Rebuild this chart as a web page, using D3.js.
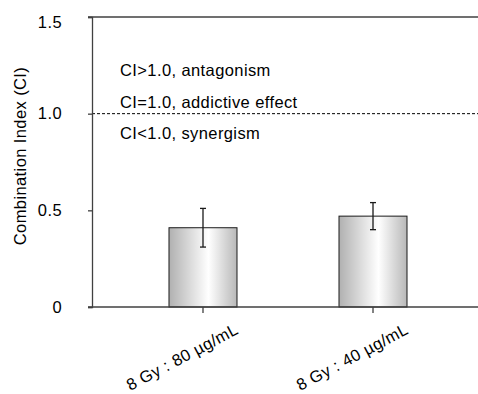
<!DOCTYPE html>
<html>
<head>
<meta charset="utf-8">
<script src="https://cdn.jsdelivr.net/npm/d3@7"></script>
<style>
  html, body { margin: 0; padding: 0; background: #fff; }
  svg { display: block; }
  text { font-family: "Liberation Sans", Arial, sans-serif; fill: #000; letter-spacing: 0.4px; }
</style>
</head>
<body>
<svg id="chart" width="478" height="394"></svg>
<script>
// Combination index for each radiation : drug pairing
const categories = ["8 Gy : 80 µg/mL", "8 Gy : 40 µg/mL"];
const ciValues = [0.41, 0.47];
const ciErrors = [0.10, 0.07];
const yTicks = [0, 0.5, 1.0, 1.5];
const yTickLabels = ["0", "0.5", "1.0", "1.5"];
const notes = ["CI>1.0, antagonism", "CI=1.0, addictive effect", "CI<1.0, synergism"];
const threshold = 1.0;

const plotLeft = 92, plotRight = 478, plotTop = 17, plotBottom = 307;
const fontSize = 16.5;

const svg = d3.select("#chart");

const y = d3.scaleLinear().domain([0, 1.5]).range([plotBottom, plotTop]);
const x = d3.scaleBand()
  .domain(categories)
  .range([98, plotRight])
  .paddingInner(0.6)
  .paddingOuter(0.4176)
  .align(0.5);

// horizontal gradient for the bars
const defs = svg.append("defs");
const grad = defs.append("linearGradient").attr("id", "barGrad")
  .attr("x1", "0%").attr("x2", "100%").attr("y1", "0%").attr("y2", "0%");
grad.append("stop").attr("offset", "0%").attr("stop-color", "#b0b0b0");
grad.append("stop").attr("offset", "58%").attr("stop-color", "#ffffff");
grad.append("stop").attr("offset", "100%").attr("stop-color", "#b8b8b8");

// top frame line at 1.5
svg.append("line")
  .attr("x1", plotLeft - 4).attr("x2", plotRight)
  .attr("y1", y(1.5)).attr("y2", y(1.5))
  .attr("stroke", "#404040").attr("stroke-width", 1.3);

// dashed threshold line at CI = 1.0
svg.append("line")
  .attr("x1", plotLeft).attr("x2", plotRight)
  .attr("y1", y(threshold)).attr("y2", y(threshold))
  .attr("stroke", "#000").attr("stroke-width", 1)
  .attr("stroke-dasharray", "3,2");

// annotation text around the threshold
const noteOffsets = [-38, -6, 25];
svg.selectAll("text.note")
  .data(notes)
  .join("text")
  .attr("class", "note")
  .attr("x", plotLeft + 28)
  .attr("y", (d, i) => y(threshold) + noteOffsets[i])
  .attr("font-size", fontSize)
  .text(d => d);

// bars
svg.selectAll("rect.bar")
  .data(categories)
  .join("rect")
  .attr("class", "bar")
  .attr("x", d => x(d))
  .attr("width", x.bandwidth())
  .attr("y", (d, i) => y(ciValues[i]))
  .attr("height", (d, i) => y(0) - y(ciValues[i]))
  .attr("fill", "url(#barGrad)")
  .attr("stroke", "#1a1a1a")
  .attr("stroke-width", 1);

// error bars
const cap = 3;
const eb = svg.selectAll("g.err")
  .data(categories)
  .join("g")
  .attr("class", "err")
  .attr("stroke", "#1a1a1a")
  .attr("stroke-width", 1.3);
eb.append("line")
  .attr("x1", d => x(d) + x.bandwidth() / 2)
  .attr("x2", d => x(d) + x.bandwidth() / 2)
  .attr("y1", (d, i) => y(ciValues[i] + ciErrors[i]))
  .attr("y2", (d, i) => y(ciValues[i] - ciErrors[i]));
eb.append("line")
  .attr("x1", d => x(d) + x.bandwidth() / 2 - cap)
  .attr("x2", d => x(d) + x.bandwidth() / 2 + cap)
  .attr("y1", (d, i) => y(ciValues[i] + ciErrors[i]))
  .attr("y2", (d, i) => y(ciValues[i] + ciErrors[i]));
eb.append("line")
  .attr("x1", d => x(d) + x.bandwidth() / 2 - cap)
  .attr("x2", d => x(d) + x.bandwidth() / 2 + cap)
  .attr("y1", (d, i) => y(ciValues[i] - ciErrors[i]))
  .attr("y2", (d, i) => y(ciValues[i] - ciErrors[i]));

// y axis
const yAxis = d3.axisLeft(y)
  .tickValues(yTicks)
  .tickFormat((d, i) => yTickLabels[i])
  .tickSize(4)
  .tickPadding(26);
const gy = svg.append("g")
  .attr("transform", `translate(${plotLeft},0)`)
  .call(yAxis);
gy.select(".domain").attr("stroke", "#404040").attr("stroke-width", 1.3);
gy.selectAll(".tick line").attr("stroke", "#404040").attr("stroke-width", 1.3);
gy.selectAll(".tick text")
  .attr("font-family", "Liberation Sans, Arial, sans-serif")
  .attr("font-size", fontSize)
  .attr("fill", "#000")
  .attr("dy", (d, i) => i === yTicks.length - 1 ? "0.65em" : "0.32em");

// x axis baseline across the plot
svg.append("line")
  .attr("x1", plotLeft - 4).attr("x2", plotRight)
  .attr("y1", y(0)).attr("y2", y(0))
  .attr("stroke", "#404040").attr("stroke-width", 1.3);

// x category ticks and rotated labels
const xTicks = svg.selectAll("g.xtick")
  .data(categories)
  .join("g")
  .attr("class", "xtick")
  .attr("transform", d => `translate(${x(d) + x.bandwidth() / 2},${y(0)})`);
xTicks.append("line")
  .attr("y1", 0).attr("y2", 6)
  .attr("stroke", "#404040").attr("stroke-width", 1.3);
xTicks.append("text")
  .attr("text-anchor", "end")
  .attr("transform", "translate(36.5,26) rotate(-28)")
  .attr("font-size", fontSize)
  .text(d => d);

// y axis title
svg.append("text")
  .attr("transform", `translate(26,${(plotTop + plotBottom) / 2 - 6}) rotate(-90)`)
  .attr("text-anchor", "middle")
  .attr("font-size", fontSize)
  .text("Combination Index (CI)");
</script>
</body>
</html>
